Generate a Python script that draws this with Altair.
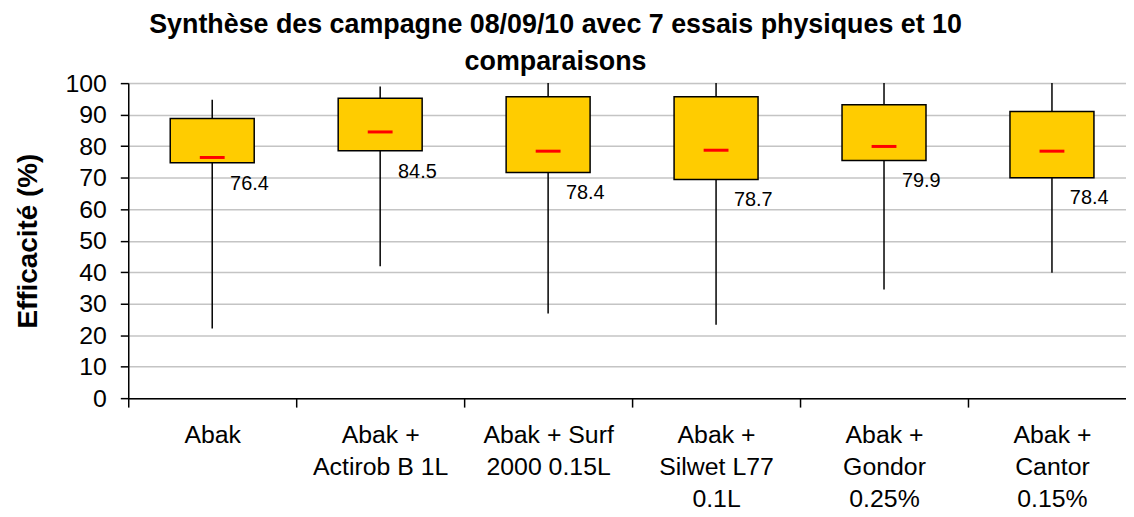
import altair as alt
import pandas as pd

categories = ["Abak", "Abak +|Actirob B 1L", "Abak + Surf|2000 0.15L",
              "Abak +|Silwet L77|0.1L", "Abak +|Gondor|0.25%", "Abak +|Cantor|0.15%"]
mins = [22.1, 41.9, 26.9, 23.3, 34.5, 39.8]
q1 = [74.7, 78.5, 71.6, 69.4, 75.4, 70.0]
medians = [76.4, 84.5, 78.4, 78.7, 79.9, 78.4]
q3 = [88.8, 95.2, 95.7, 95.7, 93.1, 91.0]
maxs = [94.7, 98.9, 100.0, 100.0, 100.0, 100.0]
y_ticks = [0, 10, 20, 30, 40, 50, 60, 70, 80, 90, 100]

df = pd.DataFrame({"cat": categories, "min": mins, "q1": q1, "med": medians,
                   "q3": q3, "max": maxs})
df["lab"] = df["med"].map(lambda v: f"{v:.1f}")

FONT = "Liberation Sans"
W, H = 1014, 317
band = W / 6

x_axis = alt.Axis(
    title=None, labelExpr="split(datum.label, '|')", labelAngle=0,
    labelFontSize=25, labelLineHeight=32, labelPadding=16, labelColor="black",
    labelFont=FONT, tickSize=9, tickColor="black", tickWidth=1.5,
    tickOffset=-band / 2, labelOffset=band / 2, labelOverlap=False,
    domainColor="black", domainWidth=1.5, grid=False,
)
x_enc = alt.X("cat:N", sort=categories,
              scale=alt.Scale(paddingInner=0, paddingOuter=0), axis=x_axis)

y_axis = alt.Axis(
    title="Efficacité (%)", values=y_ticks, tickCount=len(y_ticks) + 5,
    labelOverlap=False,
    labelFontSize=25, labelFont=FONT, labelColor="black", labelPadding=14,
    tickSize=8, tickColor="black", tickWidth=1.5,
    domainColor="black", domainWidth=1.5,
    grid=True, gridColor="#c4c4c4", gridWidth=1.5,
    titleFont=FONT, titleFontSize=28, titleFontWeight="bold", titleColor="black",
    titleX=-100, titleY=H / 2, titleAngle=-90, titleAlign="center",
    titleBaseline="middle",
)
y_scale = alt.Scale(domain=[0, 100], nice=False)

base = alt.Chart(df)

whisk = base.mark_rule(color="black", strokeWidth=1.5).encode(
    x=x_enc, y=alt.Y("min:Q", scale=y_scale, axis=y_axis), y2="max:Q")
box = base.mark_bar(width=alt.RelativeBandSize(0.5), color="#FFCC00",
                    stroke="black", strokeWidth=1.5, opacity=1).encode(
    x=x_enc, y=alt.Y("q3:Q", scale=y_scale, axis=y_axis), y2="q1:Q")
med = base.mark_tick(color="#FF0000", size=25, thickness=3, opacity=1).encode(
    x=x_enc, y=alt.Y("med:Q", scale=y_scale, axis=y_axis))
txt = base.mark_text(align="left", baseline="middle", dx=18, dy=21,
                     font=FONT, fontSize=20, color="black").encode(
    x=x_enc, y=alt.Y("q1:Q", scale=y_scale, axis=y_axis), text="lab:N")

chart = alt.layer(whisk, box, med, txt).properties(
    width=W, height=H,
    autosize=alt.AutoSizeParams(type="none"),
    padding={"left": 121, "top": 74, "right": -10, "bottom": 118},
    title=alt.TitleParams(
        text=["Synthèse des campagne 08/09/10 avec 7 essais physiques et 10",
              "comparaisons"],
        font=FONT, fontSize=27, fontWeight="bold", color="black",
        anchor="middle", dx=-77, lineHeight=37, offset=-5),
).configure_view(stroke=None).configure(background="white")

chart.save("out.html", embed_options={"renderer": "svg", "actions": False})
